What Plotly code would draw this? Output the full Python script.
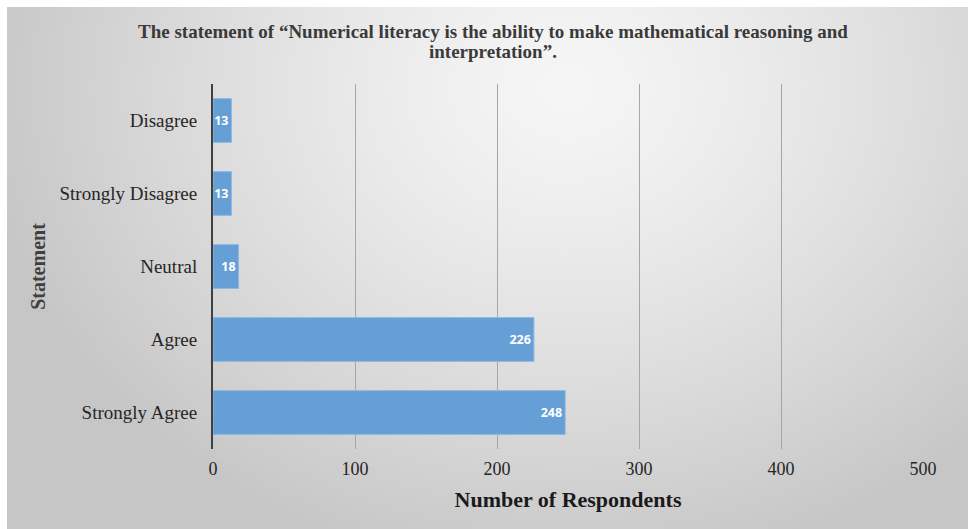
import base64, struct, zlib
import numpy as np
import plotly.graph_objects as go

categories = ["Strongly Agree", "Agree", "Neutral", "Strongly Disagree", "Disagree"]
values = [248, 226, 18, 13, 13]
x_ticks = [0, 100, 200, 300, 400, 500]
title_lines = [
    "The statement of \u201cNumerical literacy is the ability to make mathematical reasoning and",
    "interpretation\u201d.",
]

W, H = 970, 529
L, R, T, B = 213, 47, 84, 80
PW, PH = W - L - R, H - T - B
SERIF = "Liberation Serif, Times New Roman, serif"


def make_png(w, h):
    yy, xx = np.mgrid[0:h, 0:w]
    cx, cy = w * 0.58, h * 0.15
    d = np.sqrt(((xx - cx) / (w * 0.62)) ** 2 + ((yy - cy) / (h * 0.95)) ** 2)
    d = np.clip(d, 0, 1)
    v = 246 - 48 * d ** 1.3
    img = np.clip(v, 0, 255).astype(np.uint8)
    raw = b"".join(b"\x00" + bytes(np.repeat(img[r], 3)) for r in range(h))

    def chunk(tag, data):
        c = struct.pack(">I", len(data)) + tag + data
        return c + struct.pack(">I", zlib.crc32(tag + data) & 0xFFFFFFFF)

    png = b"\x89PNG\r\n\x1a\n" + chunk(b"IHDR", struct.pack(">IIBBBBB", w, h, 8, 2, 0, 0, 0))
    png += chunk(b"IDAT", zlib.compress(raw, 9)) + chunk(b"IEND", b"")
    return "data:image/png;base64," + base64.b64encode(png).decode()


bg = make_png(240, 130)

# panel pixel bounds
px0, px1, py0, py1 = 7, 968, 7, 529
img_x = (px0 - L) / PW
img_y = (H - B - py0) / PH
img_sx = (px1 - px0) / PW
img_sy = (py1 - py0) / PH


def paper_x(px):
    return (px - L) / PW


def paper_y(py):
    return (H - B - py) / PH


fig = go.Figure(
    go.Bar(
        y=categories,
        x=values,
        orientation="h",
        marker=dict(color="#659fd6", line=dict(color="#8cb9e3", width=1)),
        width=0.6,
        text=[str(v) for v in values],
        textposition="inside",
        insidetextanchor="end",
        constraintext="none",
        textfont=dict(family="Open Sans, Arial", size=12.5, color="white", weight="bold"),
        cliponaxis=True,
    )
)

annotations = []
for line, py in zip(title_lines, [32, 51]):
    annotations.append(
        dict(
            text=line,
            xref="paper",
            yref="paper",
            x=paper_x(493),
            y=paper_y(py),
            xanchor="center",
            yanchor="middle",
            showarrow=False,
            font=dict(family=SERIF, size=19, color="#3a3a3a", weight="bold"),
        )
    )

fig.update_layout(
    width=W,
    height=H,
    margin=dict(l=L, r=R, t=T, b=B),
    paper_bgcolor="white",
    plot_bgcolor="rgba(0,0,0,0)",
    showlegend=False,
    annotations=annotations,
    images=[
        dict(
            source=bg,
            xref="paper",
            yref="paper",
            x=img_x,
            y=img_y,
            sizex=img_sx,
            sizey=img_sy,
            sizing="stretch",
            xanchor="left",
            yanchor="top",
            layer="below",
        )
    ],
    xaxis=dict(
        range=[0, 500],
        tickvals=x_ticks,
        showgrid=True,
        gridcolor="#a6a6a6",
        gridwidth=1,
        zeroline=False,
        showline=False,
        ticks="",
        tickfont=dict(family=SERIF, size=18, color="#262626"),
        ticklabelstandoff=7,
        title=dict(
            text="Number of Respondents",
            font=dict(family=SERIF, size=22, color="#1a1a1a", weight="bold"),
            standoff=13,
        ),
        fixedrange=True,
    ),
    yaxis=dict(
        categoryorder="array",
        categoryarray=categories,
        showgrid=False,
        showline=True,
        linecolor="#404040",
        linewidth=2,
        ticks="",
        ticklabelstandoff=10,
        tickfont=dict(family=SERIF, size=19, color="#262626"),
        title=dict(
            text="Statement",
            font=dict(family=SERIF, size=20, color="#404040", weight="bold"),
            standoff=8,
        ),
        fixedrange=True,
    ),
    bargap=0.4,
)

fig.write_html("out.html")
